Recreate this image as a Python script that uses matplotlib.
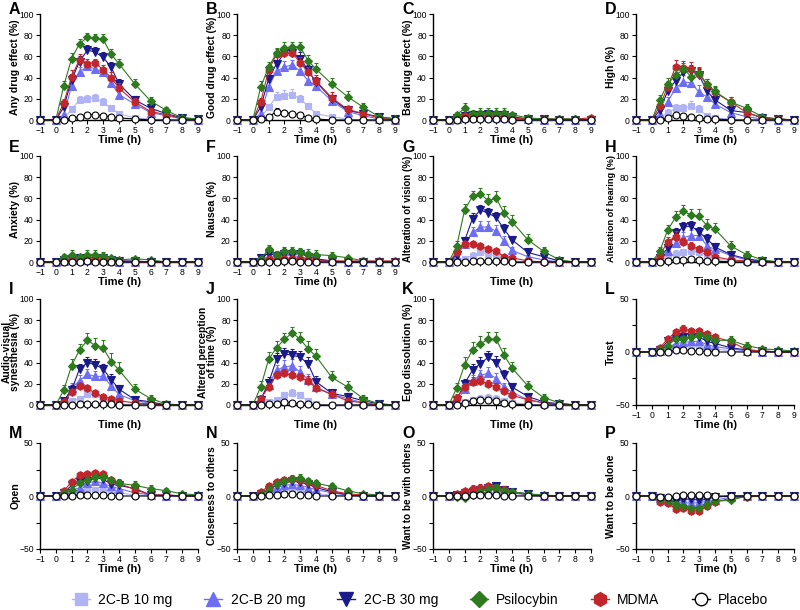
import matplotlib
matplotlib.use('Agg')
import matplotlib.pyplot as plt
from matplotlib.lines import Line2D

plt.rcParams['font.family'] = ['Liberation Sans', 'DejaVu Sans']

# time points (h)
time = [-1, 0, 0.5, 1, 1.5, 2, 2.5, 3, 3.5, 4, 5, 6, 7, 8, 9]

groups = ['2C-B 10 mg', '2C-B 20 mg', '2C-B 30 mg', 'Psilocybin', 'MDMA', 'Placebo']
colors = ['#b0b4f4', '#6e6ef2', '#1a1a8a', '#2e7a1e', '#c0262c', 'black']
markers = ['s', '^', 'v', 'D', 'h', 'o']
msizes = [5, 5.5, 5.5, 4.5, 5.5, 5]

# each panel: rows = 2C-B 10, 2C-B 20, 2C-B 30, Psilocybin, MDMA, Placebo
any_drug = [[0,0,1,10,19,20,21,17,11,6,2,1,0,0,0],
            [0,0,5,32,45,51,48,45,35,24,15,7,4,1,0],
            [0,0,12,38,55,66,64,59,50,34,19,11,6,2,1],
            [0,0,32,58,72,78,77,76,62,53,34,18,9,2,1],
            [0,0,16,41,57,53,54,47,40,30,17,8,5,1,0],
            [0,0,0,2,3,5,5,4,3,2,1,0,0,0,0]]
any_drug_err = [[0,0,1,3,4,4,4,4,3,2,1,1,0,0,0],
                [0,0,2,5,5,4,4,5,5,4,3,2,1,1,0],
                [0,0,3,5,5,5,5,5,5,5,4,3,2,1,1],
                [0,0,5,5,4,4,4,5,5,5,5,4,3,1,1],
                [0,0,4,6,5,5,4,5,5,5,4,3,2,1,0],
                [0,0,0,1,1,2,2,2,2,1,1,0,0,0,0]]

good_drug = [[0,0,2,12,22,23,24,20,13,6,3,1,0,0,0],
             [0,0,6,31,46,50,52,46,37,32,18,8,4,1,0],
             [0,0,12,39,53,63,63,58,47,36,20,9,6,3,1],
             [0,0,31,50,63,68,69,69,56,48,34,22,12,3,1],
             [0,0,17,47,62,63,63,54,45,37,21,10,6,2,0],
             [0,0,1,3,8,7,6,5,2,1,0,0,0,0,0]]
good_drug_err = [[0,0,1,3,4,5,5,4,3,2,1,1,0,0,0],
                 [0,0,2,5,5,6,5,5,5,4,3,2,1,1,0],
                 [0,0,4,5,6,6,5,6,5,5,4,3,2,1,1],
                 [0,0,6,5,5,6,5,5,5,6,6,5,4,2,1],
                 [0,0,4,5,5,5,5,5,5,5,5,3,2,1,0],
                 [0,0,1,1,3,2,2,2,1,1,0,0,0,0,0]]

bad_drug = [[0,0,0,1,2,2,2,1,1,1,0,0,0,0,0],
            [0,0,1,3,4,4,4,3,3,2,1,0,0,0,0],
            [0,0,2,4,5,5,6,5,5,3,1,1,0,0,0],
            [0,0,5,11,6,7,7,7,7,5,2,1,1,1,0],
            [0,0,2,4,4,4,5,4,3,2,1,1,1,1,2],
            [0,0,0,1,1,1,1,1,1,0,0,0,0,0,0]]
bad_drug_err = [[0,0,0,1,1,1,1,1,1,1,0,0,0,0,0],
                [0,0,1,2,2,2,2,2,2,1,1,0,0,0,0],
                [0,0,1,2,3,3,3,3,3,2,1,1,0,0,0],
                [0,0,3,5,3,4,4,4,4,3,2,1,1,1,0],
                [0,0,1,2,2,2,3,2,2,1,1,1,1,1,1],
                [0,0,0,1,1,1,1,1,1,0,0,0,0,0,0]]

high = [[0,0,2,7,11,11,13,10,4,2,1,0,0,0,0],
        [0,0,5,17,30,36,35,26,22,15,7,3,1,0,0],
        [0,0,9,27,37,45,46,42,27,19,9,7,2,1,0],
        [0,0,19,34,42,48,41,44,34,27,17,11,3,1,0],
        [0,0,13,31,50,49,48,43,33,26,17,7,2,1,0],
        [0,0,0,2,5,4,3,2,1,1,0,0,0,0,0]]
high_err = [[0,0,1,3,4,4,5,4,2,1,1,0,0,0,0],
            [0,0,2,5,6,6,6,7,5,4,3,2,1,0,0],
            [0,0,3,5,6,6,6,6,5,5,4,3,2,1,0],
            [0,0,5,6,6,6,6,6,5,5,5,4,2,1,0],
            [0,0,5,6,7,7,7,6,6,5,5,3,2,1,0],
            [0,0,0,1,3,2,2,1,1,1,0,0,0,0,0]]

anxiety = [[0,0,0,1,1,1,1,1,0,0,0,0,0,0,0],
           [0,0,1,2,2,2,2,2,1,0,0,0,0,0,0],
           [0,0,2,3,4,4,4,4,2,1,1,0,0,0,0],
           [0,0,5,7,5,7,7,6,4,2,3,2,0,0,0],
           [0,0,1,2,2,3,2,2,1,1,0,0,0,0,0],
           [0,0,0,0,0,1,0,0,0,0,0,0,0,0,0]]
anxiety_err = [[0,0,0,1,1,1,1,1,0,0,0,0,0,0,0],
               [0,0,1,1,1,1,1,1,1,0,0,0,0,0,0],
               [0,0,1,2,2,2,2,2,1,1,1,0,0,0,0],
               [0,0,3,4,3,4,4,3,2,1,2,1,0,0,0],
               [0,0,1,1,1,2,1,1,1,1,0,0,0,0,0],
               [0,0,0,0,0,1,0,0,0,0,0,0,0,0,0]]

nausea = [[0,0,0,2,2,2,2,2,1,0,0,0,0,0,0],
          [0,0,2,5,5,6,6,5,3,2,1,0,0,0,0],
          [0,0,4,8,6,8,7,8,5,3,1,0,0,0,0],
          [0,0,3,12,7,10,10,9,8,7,6,4,1,0,0],
          [0,0,1,3,3,3,3,3,2,1,1,1,1,1,1],
          [0,0,0,0,0,1,1,0,0,0,0,0,0,0,0]]
nausea_err = [[0,0,0,1,1,1,1,1,1,0,0,0,0,0,0],
              [0,0,1,2,2,3,3,2,2,1,1,0,0,0,0],
              [0,0,2,4,3,4,4,4,3,2,1,0,0,0,0],
              [0,0,2,4,3,4,4,4,4,4,3,2,1,0,0],
              [0,0,1,2,2,2,2,2,1,1,1,1,1,1,1],
              [0,0,0,0,0,1,1,0,0,0,0,0,0,0,0]]

vision = [[0,0,1,3,6,9,8,5,3,1,0,0,0,0,0],
          [0,0,5,17,28,33,33,29,20,11,5,2,0,0,0],
          [0,0,7,20,41,49,46,42,31,21,9,5,1,0,0],
          [0,0,15,49,62,64,58,60,46,38,21,10,2,0,0],
          [0,0,9,17,17,15,12,10,5,4,1,0,0,0,0],
          [0,0,0,0,1,1,1,1,1,0,0,0,0,0,0]]
vision_err = [[0,0,1,2,3,3,3,2,2,1,0,0,0,0,0],
              [0,0,2,4,5,6,6,6,5,3,2,1,0,0,0],
              [0,0,3,4,5,5,5,5,5,4,3,2,1,0,0],
              [0,0,5,6,5,6,6,7,7,6,5,4,2,0,0],
              [0,0,3,3,3,3,3,3,2,2,1,0,0,0,0],
              [0,0,0,0,1,1,1,1,1,0,0,0,0,0,0]]

hearing = [[0,0,1,4,8,9,10,9,7,3,1,0,0,0,0],
           [0,0,3,10,18,23,25,25,15,12,6,2,1,0,0],
           [0,0,4,13,27,33,34,28,22,14,7,3,1,0,0],
           [0,0,10,30,42,48,44,43,34,31,15,7,2,0,0],
           [0,0,6,19,24,19,15,12,9,5,2,1,0,0,0],
           [0,0,0,1,2,2,3,2,1,1,0,0,0,0,0]]
hearing_err = [[0,0,1,2,3,3,3,3,3,2,1,0,0,0,0],
               [0,0,2,3,4,5,5,5,4,3,2,1,1,0,0],
               [0,0,2,4,5,5,5,5,4,4,3,2,1,0,0],
               [0,0,4,5,6,6,6,7,7,6,5,3,2,0,0],
               [0,0,3,5,5,4,4,3,3,2,1,1,0,0,0],
               [0,0,0,1,1,1,1,1,1,1,0,0,0,0,0]]

synesthesia = [[0,0,1,4,6,10,10,6,3,1,0,0,0,0,0],
               [0,0,3,16,23,29,27,27,18,10,4,2,0,0,0],
               [0,0,4,14,34,40,38,34,24,15,5,3,0,0,0],
               [0,0,14,37,52,61,56,54,41,33,15,6,1,0,0],
               [0,0,3,12,18,16,11,8,6,4,2,1,0,0,0],
               [0,0,0,0,1,1,1,1,1,0,0,0,0,0,0]]
synesthesia_err = [[0,0,1,2,2,3,3,3,2,1,0,0,0,0,0],
                   [0,0,2,5,5,5,5,5,4,3,2,1,0,0,0],
                   [0,0,2,5,5,5,5,5,5,4,2,2,0,0,0],
                   [0,0,5,6,6,7,7,7,8,8,5,3,1,0,0],
                   [0,0,1,3,3,3,3,2,2,2,1,1,0,0,0],
                   [0,0,0,0,1,1,1,1,1,0,0,0,0,0,0]]

time_perc = [[0,0,1,3,5,9,11,9,4,1,0,0,0,0,0],
             [0,0,5,19,33,36,37,31,24,17,10,6,2,0,0],
             [0,0,5,21,43,48,47,45,39,22,11,8,4,1,0],
             [0,0,17,43,54,62,68,62,53,46,26,17,6,1,0],
             [0,0,6,17,28,30,28,26,23,16,10,4,2,0,0],
             [0,0,0,1,1,3,2,1,1,0,0,0,0,0,0]]
time_perc_err = [[0,0,1,2,2,3,4,3,2,1,0,0,0,0,0],
                 [0,0,2,5,5,6,6,6,5,4,3,2,1,0,0],
                 [0,0,2,5,6,6,6,6,6,5,3,3,2,1,0],
                 [0,0,6,7,6,6,6,7,7,7,6,6,3,1,0],
                 [0,0,3,4,4,4,4,4,4,3,3,2,1,0,0],
                 [0,0,0,1,1,2,2,1,1,0,0,0,0,0,0]]

ego = [[0,0,1,3,5,6,7,6,4,2,1,0,0,0,0],
       [0,0,3,15,23,28,30,25,17,12,5,2,0,0,0],
       [0,0,5,20,33,39,45,40,28,17,8,3,1,0,0],
       [0,0,16,38,52,58,62,62,47,35,18,7,2,0,0],
       [0,0,7,17,22,23,20,17,13,9,5,2,1,0,0],
       [0,0,0,2,4,5,5,4,2,1,0,0,0,0,0]]
ego_err = [[0,0,1,2,2,3,3,3,2,1,1,0,0,0,0],
           [0,0,2,4,5,5,6,5,4,4,2,1,0,0,0],
           [0,0,2,5,6,6,6,6,5,4,3,2,1,0,0],
           [0,0,5,7,7,7,7,7,7,6,5,3,1,0,0],
           [0,0,3,4,4,4,4,4,3,3,2,1,1,0,0],
           [0,0,0,1,2,2,2,2,1,1,0,0,0,0,0]]

trust = [[0,0,1,2,4,5,6,5,4,3,1,0,0,0,0],
         [0,0,1,4,8,9,10,10,7,5,3,1,0,0,0],
         [0,0,2,10,12,14,14,14,10,8,4,2,1,0,0],
         [0,0,2,6,12,12,14,16,14,11,11,6,3,2,1],
         [0,0,4,12,19,22,20,20,17,14,10,2,1,0,0],
         [0,0,0,0,2,2,1,1,0,0,0,0,0,0,0]]
trust_err = [[0,0,1,2,2,2,2,2,2,2,1,0,0,0,0],
             [0,0,1,2,3,3,3,3,3,2,2,1,0,0,0],
             [0,0,1,3,3,3,3,3,3,3,2,1,1,0,0],
             [0,0,1,3,3,3,3,3,3,3,4,3,2,1,1],
             [0,0,2,3,3,3,3,3,3,3,3,2,1,0,0],
             [0,0,0,0,1,1,1,1,0,0,0,0,0,0,0]]

open_ = [[0,0,1,2,3,5,6,5,4,3,1,0,0,0,0],
         [0,0,2,5,8,12,14,12,9,7,3,1,0,0,0],
         [0,0,3,10,13,14,17,16,11,10,7,1,1,0,0],
         [0,0,3,6,12,15,18,18,15,12,10,7,5,2,1],
         [0,0,5,13,20,21,22,21,15,12,6,1,1,0,0],
         [0,0,0,0,1,1,1,1,0,0,0,0,0,0,0]]
open_err = [[0,0,1,2,2,2,2,2,2,2,1,0,0,0,0],
            [0,0,1,3,3,3,3,3,3,3,2,1,0,0,0],
            [0,0,2,3,3,3,3,3,3,3,3,1,1,0,0],
            [0,0,2,3,3,3,3,3,3,4,4,3,3,1,1],
            [0,0,2,3,3,3,3,3,3,3,3,1,1,0,0],
            [0,0,0,0,1,1,1,1,0,0,0,0,0,0,0]]

closeness = [[0,0,1,2,4,5,6,5,3,2,1,0,0,0,0],
             [0,0,2,5,8,10,11,10,8,6,3,1,0,0,0],
             [0,0,2,6,10,12,14,13,11,8,4,1,0,0,0],
             [0,0,2,6,11,14,16,17,14,12,9,5,2,1,0],
             [0,0,4,9,13,15,16,15,13,10,5,2,1,0,0],
             [0,0,0,1,1,2,2,1,1,0,0,0,0,0,0]]
closeness_err = [[0,0,1,2,2,2,2,2,2,1,1,0,0,0,0],
                 [0,0,1,2,3,3,3,3,3,2,2,1,0,0,0],
                 [0,0,1,2,3,3,3,3,3,3,2,1,0,0,0],
                 [0,0,1,3,3,4,4,4,3,3,3,3,2,1,0],
                 [0,0,2,3,3,3,3,3,3,3,2,1,1,0,0],
                 [0,0,0,1,1,1,1,1,1,0,0,0,0,0,0]]

with_others = [[0,0,0,1,2,3,3,3,2,1,0,0,0,0,0],
               [0,0,1,2,3,5,6,6,4,3,1,0,0,0,0],
               [0,0,1,3,4,6,8,9,6,4,2,0,0,0,0],
               [0,0,-1,-2,1,4,7,8,5,4,2,1,0,0,0],
               [0,0,2,5,7,8,9,8,6,4,1,0,0,0,0],
               [0,0,0,0,1,1,1,1,0,0,0,0,0,0,0]]
with_others_err = [[0,0,0,1,1,2,2,2,1,1,0,0,0,0,0],
                   [0,0,1,1,2,2,2,2,2,2,1,0,0,0,0],
                   [0,0,1,2,2,3,3,3,3,2,1,0,0,0,0],
                   [0,0,1,2,2,3,3,3,3,3,2,1,0,0,0],
                   [0,0,1,2,3,3,3,3,3,2,1,0,0,0,0],
                   [0,0,0,0,1,1,1,1,0,0,0,0,0,0,0]]

alone = [[0,0,-1,-2,-3,-3,-3,-3,-2,-1,0,0,0,0,0],
         [0,0,-2,-4,-6,-6,-7,-6,-5,-4,-1,0,0,0,0],
         [0,0,-2,-5,-5,-3,-3,-4,-3,-1,0,0,0,0,0],
         [0,0,-3,-4,-8,-9,-11,-11,-8,-5,-4,0,0,0,0],
         [0,0,-6,-7,-12,-11,-14,-14,-9,-6,-2,-1,0,0,0],
         [0,0,-1,-1,0,1,1,1,1,0,0,0,0,0,0]]
alone_err = [[0,0,1,1,2,2,2,2,1,1,0,0,0,0,0],
             [0,0,1,2,2,2,3,2,2,2,1,0,0,0,0],
             [0,0,1,2,2,2,2,2,2,1,0,0,0,0,0],
             [0,0,2,2,3,3,3,3,3,2,2,0,0,0,0],
             [0,0,2,2,3,3,3,3,3,2,1,1,0,0,0],
             [0,0,1,1,1,1,1,1,1,0,0,0,0,0,0]]

letters = list('ABCDEFGHIJKLMNOP')
ylabels = ['Any drug effect (%)', 'Good drug effect (%)', 'Bad drug effect (%)', 'High (%)',
           'Anxiety (%)', 'Nausea (%)', 'Alteration of vision (%)', 'Alteration of hearing (%)',
           'Audio-visual\nsynesthesia (%)', 'Altered perception\nof time (%)', 'Ego dissolution (%)', 'Trust',
           'Open', 'Closeness to others', 'Want to be with others', 'Want to be alone']
ylabel_sizes = [7.6, 7.4, 7.6, 7.6,
                7.6, 7.6, 7.0, 6.6,
                7.4, 7.4, 7.6, 7.6,
                7.6, 7.4, 7.2, 7.6]
means = [any_drug, good_drug, bad_drug, high, anxiety, nausea, vision, hearing,
         synesthesia, time_perc, ego, trust, open_, closeness, with_others, alone]
errs = [any_drug_err, good_drug_err, bad_drug_err, high_err, anxiety_err, nausea_err, vision_err, hearing_err,
        synesthesia_err, time_perc_err, ego_err, trust_err, open_err, closeness_err, with_others_err, alone_err]
# panels scored -50..50 instead of 0..100
bipolar = ['L', 'M', 'N', 'O', 'P']
no_xticklabels = ['G', 'H', 'I', 'J', 'K']

W, H = 800, 610
fig = plt.figure(figsize=(W / 100, H / 100), dpi=100)

col_left = [40, 237, 433, 636]
row_top = [14, 156, 299, 443]
ax_w, ax_h = 158, 106
letter_top = [2, 140, 282, 426]

# draw order: placebo on top
draw_order = [0, 1, 2, 4, 3, 5]

for i in range(16):
    r, c = i // 4, i % 4
    ax = fig.add_axes([col_left[c] / W, 1 - (row_top[r] + ax_h) / H, ax_w / W, ax_h / H])
    for k in draw_order:
        m = means[i][k]
        e = errs[i][k]
        lo = [ee if v < 0 else 0 for v, ee in zip(m, e)]
        hi = [ee if v >= 0 else 0 for v, ee in zip(m, e)]
        face = 'white' if k == 5 else colors[k]
        ax.errorbar(time, m, yerr=[lo, hi], color=colors[k], marker=markers[k], ms=msizes[k],
                    mfc=face, mec=colors[k], mew=0.8, lw=0.8, elinewidth=0.7, capsize=1.5,
                    capthick=0.7, clip_on=False, zorder=3 + draw_order.index(k))
    ax.set_xlim(-1, 9)
    ax.set_xticks(range(-1, 10))
    if letters[i] in bipolar:
        ax.set_ylim(-50, 50)
        ax.set_yticks([-50, 0, 50])
        ax.set_yticks([-25, 25], minor=True)
    else:
        ax.set_ylim(0, 100)
        ax.set_yticks([0, 20, 40, 60, 80, 100])
    ax.spines['top'].set_visible(False)
    ax.spines['right'].set_visible(False)
    ax.spines['left'].set_linewidth(1)
    ax.spines['bottom'].set_linewidth(1)
    ax.tick_params(which='both', labelsize=6.2, length=3, width=0.8, pad=1.5)
    if letters[i] in no_xticklabels:
        ax.tick_params(labelbottom=False)
    ax.set_ylabel(ylabels[i], fontsize=ylabel_sizes[i], fontweight='bold', linespacing=0.85)
    ax.yaxis.set_label_coords(-0.125, 0.5)
    ax.set_xlabel('Time (h)', fontsize=8, fontweight='bold')
    ax.xaxis.set_label_coords(0.5, -0.14)
    fig.text((col_left[c] - 31) / W, 1 - letter_top[r] / H, letters[i], fontsize=11.5,
             fontweight='bold', va='top', ha='left')

handles = []
for k in range(6):
    face = 'white' if k == 5 else colors[k]
    handles.append(Line2D([], [], color=colors[k], marker=markers[k], ms=msizes[k] * 1.8,
                          mfc=face, mec=colors[k], mew=1, lw=1))
fig.legend(handles, groups, loc='center', bbox_to_anchor=(0.525, 1 - 600 / H), ncol=6,
           frameon=False, fontsize=10, handlelength=1.3, handletextpad=0.6, columnspacing=2.3)

fig.savefig('out.png', dpi=100)
